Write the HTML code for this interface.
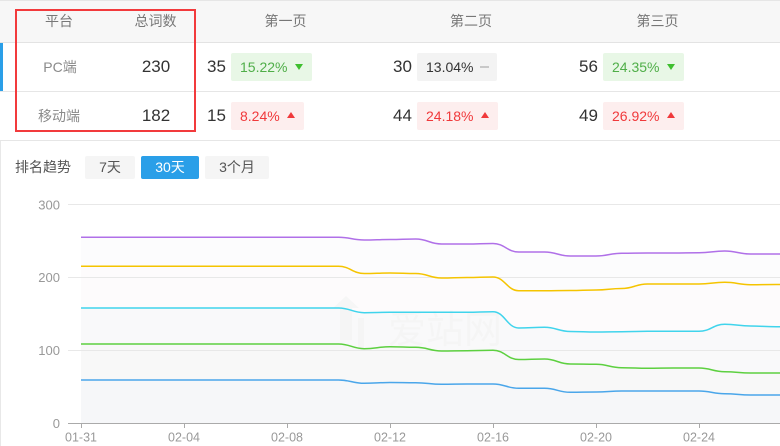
<!DOCTYPE html>
<html><head><meta charset="utf-8">
<style>
*{margin:0;padding:0;box-sizing:border-box}
html,body{width:780px;height:446px;overflow:hidden;background:#fff;font-family:"Liberation Sans","Noto Sans CJK SC",sans-serif}
.a{position:absolute;white-space:nowrap}
.hd{position:absolute;left:0;top:0;width:780px;height:43px;background:#f7f7f7;border-top:1px solid #e6e6e6;border-bottom:1px solid #e3e3e3}
.ht{position:absolute;top:11px;font-size:14px;color:#777;line-height:20px;text-align:center;width:80px;margin-left:-40px}
.rowline{position:absolute;left:0;width:780px;height:1px;background:#e6e6e6}
.plat{position:absolute;font-size:14px;color:#8a8a8a;text-align:center;width:80px;margin-left:-40px;line-height:20px}
.tot{position:absolute;font-size:17px;color:#333;text-align:center;width:80px;margin-left:-40px;line-height:20px}
.num{position:absolute;font-size:17px;color:#333;line-height:20px}
.bd{position:absolute;height:28px;border-radius:2px;font-size:14px;line-height:28px;padding-left:9px}
.g{background:#e8f7e6;color:#4fae48}
.r{background:#fdeeee;color:#f0393b}
.n{background:#f3f3f3;color:#333}
.tdn{position:absolute;width:0;height:0;border-left:4.5px solid transparent;border-right:4.5px solid transparent;border-top:6px solid #3fbf2f}
.tup{position:absolute;width:0;height:0;border-left:4.5px solid transparent;border-right:4.5px solid transparent;border-bottom:6px solid #f0393b}
.dash{position:absolute;width:9px;height:2px;background:#c8c8c8}
.btn{position:absolute;top:156px;height:23px;line-height:23px;font-size:14px;text-align:center;border-radius:2px;background:#f5f5f5;color:#555}
</style></head><body>
<div class="hd"></div>
<div class="ht" style="left:59px">平台</div>
<div class="ht" style="left:155.5px">总词数</div>
<div class="ht" style="left:285.5px">第一页</div>
<div class="ht" style="left:471px">第二页</div>
<div class="ht" style="left:657.5px">第三页</div>

<div class="a" style="left:0;top:43px;width:3px;height:48px;background:#2a9fe8"></div>
<div class="rowline" style="top:91px"></div>
<div class="rowline" style="top:140px"></div>
<div class="a" style="left:0;top:141px;width:1px;height:305px;background:#e8e8e8"></div>

<div class="plat" style="left:60px;top:57px">PC端</div>
<div class="tot" style="left:156px;top:57px">230</div>
<div class="num" style="left:207px;top:57px">35</div>
<div class="bd g" style="left:231px;top:53px;width:81px">15.22%</div>
<div class="tdn" style="left:294.5px;top:64px"></div>
<div class="num" style="left:393px;top:57px">30</div>
<div class="bd n" style="left:417px;top:53px;width:80px">13.04%</div>
<div class="dash" style="left:480px;top:66px"></div>
<div class="num" style="left:579px;top:57px">56</div>
<div class="bd g" style="left:603px;top:53px;width:81px">24.35%</div>
<div class="tdn" style="left:666.5px;top:64px"></div>

<div class="plat" style="left:59px;top:106px">移动端</div>
<div class="tot" style="left:156px;top:106px">182</div>
<div class="num" style="left:207px;top:106px">15</div>
<div class="bd r" style="left:231px;top:102px;width:73px">8.24%</div>
<div class="tup" style="left:287px;top:112px"></div>
<div class="num" style="left:393px;top:106px">44</div>
<div class="bd r" style="left:417px;top:102px;width:81px">24.18%</div>
<div class="tup" style="left:481px;top:112px"></div>
<div class="num" style="left:579px;top:106px">49</div>
<div class="bd r" style="left:603px;top:102px;width:81px">26.92%</div>
<div class="tup" style="left:667px;top:112px"></div>

<div class="a" style="left:15px;top:9px;width:181px;height:123px;border:2px solid #f23a3c"></div>

<div class="a" style="left:15px;top:157px;font-size:14px;color:#555;line-height:20px">排名趋势</div>
<div class="btn" style="left:85px;width:50px">7天</div>
<div class="btn" style="left:141px;width:58px;background:#2a9fe8;color:#fff">30天</div>
<div class="btn" style="left:205px;width:64px">3个月</div>

<svg id="ch" class="a" style="left:0;top:0" width="780" height="446" xmlns="http://www.w3.org/2000/svg">
<g id="areas"></g>
<g stroke="#e8e8e8" stroke-width="1">
<line x1="68" y1="204.5" x2="780" y2="204.5"/>
<line x1="68" y1="277.5" x2="780" y2="277.5"/>
<line x1="68" y1="350.5" x2="780" y2="350.5"/>
</g>
<g fill="#f3f3f3" opacity="0.6">
<path d="M333 308 L346 296 L359 308 L352 308 L352 340 L340 340 L340 308 Z"/>
<path d="M358 318 L364 318 L364 350 L358 350 Z"/>
</g>
<text x="388" y="343" font-size="38" fill="#f5f5f5" font-family="Liberation Sans, Noto Sans CJK SC, sans-serif">爱站网</text>
<g id="lines" fill="none" stroke-width="1.5"></g>
<line x1="68" y1="423.5" x2="780" y2="423.5" stroke="#aaa" stroke-width="1"/>
<g stroke="#aaa" stroke-width="1">
<line x1="81.5" y1="423" x2="81.5" y2="428"/>
<line x1="184.5" y1="423" x2="184.5" y2="428"/>
<line x1="287.5" y1="423" x2="287.5" y2="428"/>
<line x1="390.5" y1="423" x2="390.5" y2="428"/>
<line x1="493.5" y1="423" x2="493.5" y2="428"/>
<line x1="596.5" y1="423" x2="596.5" y2="428"/>
<line x1="699.5" y1="423" x2="699.5" y2="428"/>
</g>
<g font-size="13" fill="#999" font-family="Liberation Sans, sans-serif" text-anchor="end">
<text x="60" y="209.5">300</text>
<text x="60" y="282">200</text>
<text x="60" y="355">100</text>
<text x="60" y="428">0</text>
</g>
<g font-size="12.5" fill="#999" font-family="Liberation Sans, sans-serif" text-anchor="middle">
<text x="81" y="441.5">01-31</text>
<text x="184" y="441.5">02-04</text>
<text x="287" y="441.5">02-08</text>
<text x="390" y="441.5">02-12</text>
<text x="493" y="441.5">02-16</text>
<text x="596" y="441.5">02-20</text>
<text x="699" y="441.5">02-24</text>
</g>
</svg>
<script>
(function(){
var S=[
 {c:"#b070e8",f:"#fcfcfd",v:[237.3,240,239.5,239,244,244,243.5,252,252,256,256,253.3,253,253,252.7,251,254,254,254]},
 {c:"#f5c400",f:"#fdfbfc",v:[266.3,273.5,273,273.5,278,277.5,277,290.7,290.7,290.5,290,288.5,284,284,284,282.3,284.7,284.5,284.5]},
 {c:"#40d4ec",f:"#f9f9fa",v:[308,312.7,312.3,312.3,312.3,312.3,311.7,328,327.3,331.5,332,331.7,331.3,331.3,331.3,324.3,326,326.7,326.7]},
 {c:"#5dd040",f:"#f8f8f8",v:[344,348.7,346.7,347.3,351,350.7,350.3,359.5,359,364,364.3,367.7,368.3,368,368,371.7,373,373,373]},
 {c:"#4aa6ea",f:"#f6f7f9",v:[380,383.3,382.5,382.7,384.3,384,384,388.3,388.3,392.3,392,391,391,391,391,393.7,395,395,395]}
];
var ns="http://www.w3.org/2000/svg",A=document.getElementById("areas"),L=document.getElementById("lines");
S.forEach(function(s){
 var dx=25.75,x0=81+10*dx;
 var d="M81,"+s.v[0]+" L"+x0+","+s.v[0];
 for(var i=1;i<s.v.length;i++){
  var xa=x0+(i-1)*dx,xb=x0+i*dx;
  d+=" C"+(xa+dx*0.45)+","+s.v[i-1]+" "+(xb-dx*0.45)+","+s.v[i]+" "+xb+","+s.v[i];
 }
 var xe=x0+(s.v.length-1)*dx;
 var a=document.createElementNS(ns,"path");
 a.setAttribute("d",d+" L"+xe+",423 L81,423 Z");a.setAttribute("fill",s.f);A.appendChild(a);
 var p=document.createElementNS(ns,"path");
 p.setAttribute("d",d);p.setAttribute("stroke",s.c);L.appendChild(p);
});
})();
</script>
</body></html>
